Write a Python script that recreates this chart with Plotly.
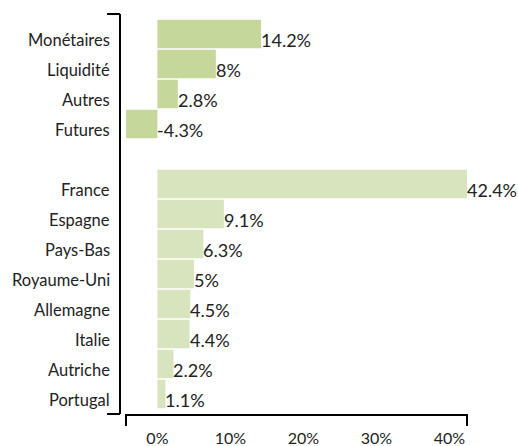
import plotly.graph_objects as go

# Data
group1_labels = ["Monétaires", "Liquidité", "Autres", "Futures"]
group1_values = [14.2, 8, 2.8, -4.3]
group2_labels = ["France", "Espagne", "Pays-Bas", "Royaume-Uni", "Allemagne",
                 "Italie", "Autriche", "Portugal"]
group2_values = [42.4, 9.1, 6.3, 5, 4.5, 4.4, 2.2, 1.1]
x_tick_values = [0, 10, 20, 30, 40]
x_tick_labels = ["0%", "10%", "20%", "30%", "40%"]

GAP = " "
category_order = group1_labels + [GAP] + group2_labels

FONT = "Lato, 'Open Sans', sans-serif"
TEXT_COLOR = "#222222"
COLOR1 = "#c5d79b"
COLOR2 = "#d8e4bd"
W, H = 518, 446
ML, MR, MT, MB = 120, 51, 14, 32
LABEL_DROP = -6  # labels sit slightly below the bar centres

fig = go.Figure()
fig.add_trace(go.Bar(y=group1_labels, x=group1_values, orientation="h",
                     marker=dict(color=COLOR1, line=dict(width=0)),
                     hoverinfo="x+y", showlegend=False))
fig.add_trace(go.Bar(y=group2_labels, x=group2_values, orientation="h",
                     marker=dict(color=COLOR2, line=dict(width=0)),
                     hoverinfo="x+y", showlegend=False))

all_labels = group1_labels + group2_labels
all_values = group1_values + group2_values
for lab, v in zip(all_labels, all_values):
    # value label at the bar end
    fig.add_annotation(x=max(v, 0), y=lab, xref="x", yref="y",
                       text=f"{v:g}%", showarrow=False, xanchor="left",
                       yanchor="middle", borderpad=0, xshift=-1, yshift=LABEL_DROP,
                       font=dict(family=FONT, size=18, color=TEXT_COLOR))
    # category label left of the axis
    fig.add_annotation(x=0, y=lab, xref="paper", yref="y",
                       text=lab, showarrow=False, xanchor="right",
                       yanchor="middle", borderpad=0, xshift=-9, yshift=LABEL_DROP,
                       font=dict(family=FONT, size=16.5, color=TEXT_COLOR))

n = len(category_order)
xmin, xmax = min(all_values), max(all_values)

fig.update_layout(
    width=W, height=H,
    margin=dict(l=ML, r=MR, t=MT, b=MB, autoexpand=False),
    paper_bgcolor="white", plot_bgcolor="white",
    barmode="overlay", bargap=0.05,
    font=dict(family=FONT, size=16, color=TEXT_COLOR),
    xaxis=dict(domain=[6 / (W - ML - MR), 1], range=[xmin, xmax],
               tickvals=x_tick_values, ticktext=x_tick_labels,
               showgrid=False, zeroline=False, showline=True,
               linecolor="black", linewidth=2, ticks="", automargin=False,
               ticklabelstandoff=9,
               tickfont=dict(family=FONT, size=16, color=TEXT_COLOR)),
    yaxis=dict(type="category", categoryorder="array", categoryarray=category_order,
               range=[n - 1 + 0.667, -0.667], anchor="free", position=0,
               showgrid=False, zeroline=False, showline=True,
               linecolor="black", linewidth=2, ticks="", automargin=False,
               showticklabels=False),
)

line = dict(color="black", width=2)
# end caps of the y axis
for yy in (0, 1):
    fig.add_shape(type="line", xref="paper", yref="paper", xsizemode="pixel",
                  xanchor=0, x0=-13, x1=0, y0=yy, y1=yy, line=line)
# end caps of the x axis
for xx in (0, 1):
    fig.add_shape(type="line", xref="x domain", yref="paper", ysizemode="pixel",
                  yanchor=0, y0=-12, y1=0, x0=xx, x1=xx, line=line)

fig.write_html("out.html", config={"displayModeBar": False},
               post_script="document.body.style.margin='0';document.body.style.overflow='hidden';")
